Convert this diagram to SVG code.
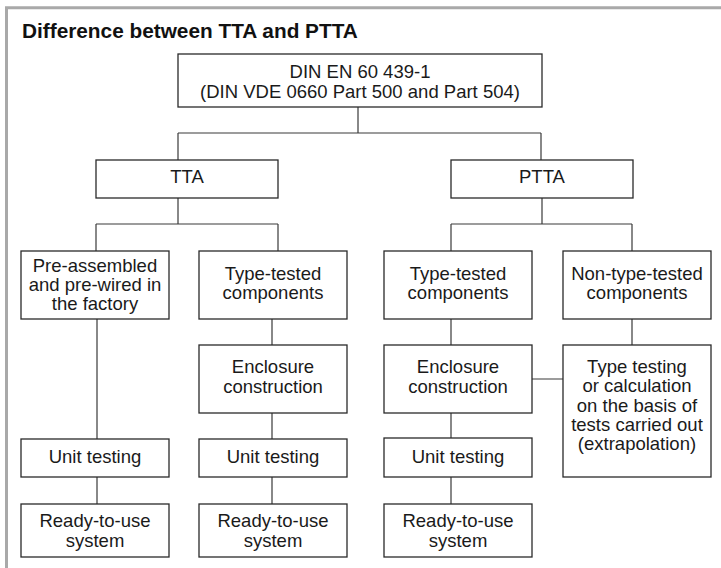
<svg xmlns="http://www.w3.org/2000/svg" width="721" height="568" viewBox="0 0 721 568">
  <style>
    .box { fill: #fff; stroke: #2a2a2a; stroke-width: 1.3; }
    .lbl { font-family: "Liberation Sans", Arial, sans-serif; font-size: 18.5px; fill: #1a1a1a; text-anchor: middle; }
    .title { font-family: "Liberation Sans", Arial, sans-serif; font-size: 20.8px; font-weight: bold; fill: #111; }
    .wire { fill: none; stroke: #3a3a3a; stroke-width: 1.2; }
    .frame { fill: none; stroke: #a9a9a9; stroke-width: 3; }
  </style>

  <rect width="721" height="568" fill="#fff"/>
  <!-- frame: top and left rule -->
  <path class="frame" d="M6.5,568 V7.7 H721"/>

  <text class="title" x="22" y="38">Difference between TTA and PTTA</text>

  <!-- connectors -->
  <g id="connectors">
    <path class="wire" d="M358,107 V133 M178,133 H541 M178,133 V160 M541,133 V160"/>
    <path class="wire" d="M178,198 V224 M96,224 H278 M96,224 V251 M278,224 V251"/>
    <path class="wire" d="M542,198 V224 M451,224 H632 M451,224 V251 M632,224 V251"/>
    <path class="wire" d="M97,319 V439 M97,477 V504"/>
    <path class="wire" d="M272,319 V345 M272,413 V439 M272,477 V504"/>
    <path class="wire" d="M451,319 V345 M451,413 V438 M451,477 V504"/>
    <path class="wire" d="M632,319 V345 M532,379 H563"/>
  </g>

  <g id="din">
    <rect class="box" x="178" y="54" width="364" height="53"/>
    <text class="lbl" x="360" y="78">DIN EN 60 439-1</text>
    <text class="lbl" x="360" y="98">(DIN VDE 0660 Part 500 and Part 504)</text>
  </g>

  <g id="tta">
    <rect class="box" x="96" y="160" width="182" height="38"/>
    <text class="lbl" x="187" y="183">TTA</text>
  </g>

  <g id="ptta">
    <rect class="box" x="451" y="160" width="182" height="38"/>
    <text class="lbl" x="542" y="183">PTTA</text>
  </g>

  <g id="preassembled">
    <rect class="box" x="21" y="251" width="148" height="68"/>
    <text class="lbl" x="95" y="272">Pre-assembled</text>
    <text class="lbl" x="95" y="291">and pre-wired in</text>
    <text class="lbl" x="95" y="310">the factory</text>
  </g>

  <g id="tta-components">
    <rect class="box" x="199" y="251" width="148" height="68"/>
    <text class="lbl" x="273" y="280">Type-tested</text>
    <text class="lbl" x="273" y="299">components</text>
  </g>

  <g id="ptta-components">
    <rect class="box" x="384" y="251" width="148" height="68"/>
    <text class="lbl" x="458" y="280">Type-tested</text>
    <text class="lbl" x="458" y="299">components</text>
  </g>

  <g id="ptta-nontested">
    <rect class="box" x="563" y="251" width="148" height="68"/>
    <text class="lbl" x="637" y="280">Non-type-tested</text>
    <text class="lbl" x="637" y="299">components</text>
  </g>

  <g id="tta-enclosure">
    <rect class="box" x="199" y="345" width="148" height="68"/>
    <text class="lbl" x="273" y="373">Enclosure</text>
    <text class="lbl" x="273" y="393">construction</text>
  </g>

  <g id="ptta-enclosure">
    <rect class="box" x="384" y="345" width="148" height="68"/>
    <text class="lbl" x="458" y="373">Enclosure</text>
    <text class="lbl" x="458" y="393">construction</text>
  </g>

  <g id="ptta-typetesting">
    <rect class="box" x="563" y="345" width="148" height="132"/>
    <text class="lbl" x="637" y="373">Type testing</text>
    <text class="lbl" x="637" y="392">or calculation</text>
    <text class="lbl" x="637" y="412">on the basis of</text>
    <text class="lbl" x="637" y="431">tests carried out</text>
    <text class="lbl" x="637" y="450">(extrapolation)</text>
  </g>

  <g id="unit-1">
    <rect class="box" x="21" y="439" width="148" height="38"/>
    <text class="lbl" x="95" y="463">Unit testing</text>
  </g>

  <g id="unit-2">
    <rect class="box" x="199" y="439" width="148" height="38"/>
    <text class="lbl" x="273" y="463">Unit testing</text>
  </g>

  <g id="unit-3">
    <rect class="box" x="384" y="438" width="148" height="39"/>
    <text class="lbl" x="458" y="463">Unit testing</text>
  </g>

  <g id="ready-1">
    <rect class="box" x="21" y="504" width="148" height="53"/>
    <text class="lbl" x="95" y="527">Ready-to-use</text>
    <text class="lbl" x="95" y="547">system</text>
  </g>

  <g id="ready-2">
    <rect class="box" x="199" y="504" width="148" height="53"/>
    <text class="lbl" x="273" y="527">Ready-to-use</text>
    <text class="lbl" x="273" y="547">system</text>
  </g>

  <g id="ready-3">
    <rect class="box" x="384" y="504" width="148" height="53"/>
    <text class="lbl" x="458" y="527">Ready-to-use</text>
    <text class="lbl" x="458" y="547">system</text>
  </g>
</svg>
